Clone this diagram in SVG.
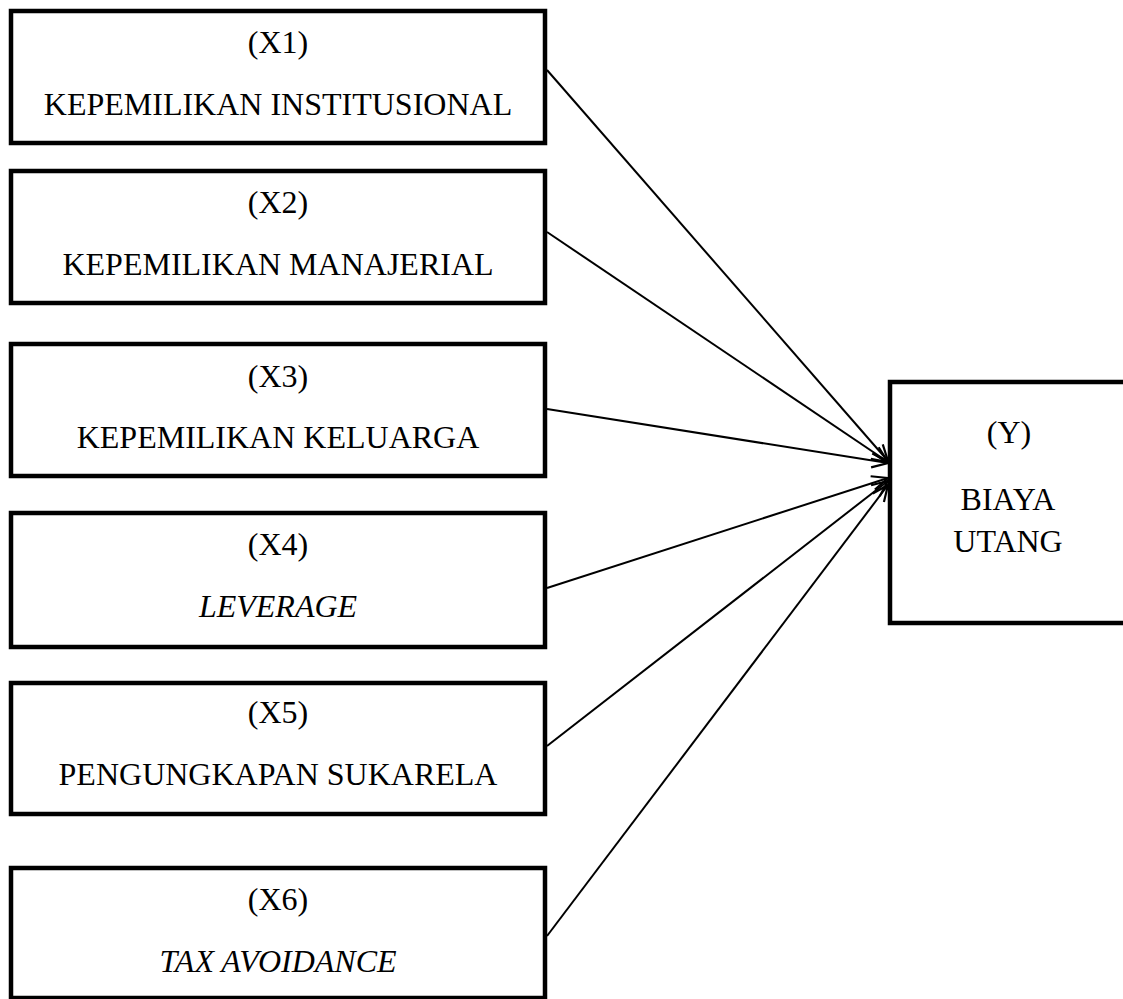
<svg xmlns="http://www.w3.org/2000/svg" width="1123" height="999" viewBox="0 0 1123 999">
<style>
.box{fill:#fff;stroke:#000;stroke-width:4.5}
.t{font-family:"Liberation Serif","Times New Roman",serif;font-size:32px;fill:#000;text-anchor:middle}
.i{font-style:italic}
.c{stroke:#000;stroke-width:2;fill:none}
</style>
<defs>
<marker id="ah" viewBox="0 0 20 20" refX="18" refY="10" markerWidth="20" markerHeight="20" markerUnits="userSpaceOnUse" orient="auto">
<path d="M2,3 L18,10 L2,17" fill="none" stroke="#000" stroke-width="2.2"/>
</marker>
</defs>
<rect width="1123" height="999" fill="#fff"/>
<g id="x1"><rect class="box" x="11" y="11" width="534" height="132"/><text class="t" x="278" y="53">(X1)</text><text class="t" x="278" y="115">KEPEMILIKAN INSTITUSIONAL</text></g>
<g id="x2"><rect class="box" x="11" y="171" width="534" height="132"/><text class="t" x="278" y="213">(X2)</text><text class="t" x="278" y="275">KEPEMILIKAN MANAJERIAL</text></g>
<g id="x3"><rect class="box" x="11" y="344" width="534" height="132"/><text class="t" x="278" y="387">(X3)</text><text class="t" x="278" y="448">KEPEMILIKAN KELUARGA</text></g>
<g id="x4"><rect class="box" x="11" y="513" width="534" height="134"/><text class="t" x="278" y="555">(X4)</text><text class="t i" x="278" y="617">LEVERAGE</text></g>
<g id="x5"><rect class="box" x="11" y="683" width="534" height="131"/><text class="t" x="278" y="723">(X5)</text><text class="t" x="278" y="785">PENGUNGKAPAN SUKARELA</text></g>
<g id="x6"><rect class="box" x="11" y="868" width="534" height="130"/><text class="t" x="278" y="910">(X6)</text><text class="t i" x="278" y="972">TAX AVOIDANCE</text></g>
<g id="y"><rect class="box" x="890" y="382" width="240" height="241"/><text class="t" x="1009" y="443">(Y)</text><text class="t" x="1008" y="510">BIAYA</text><text class="t" x="1008" y="552">UTANG</text></g>
<g id="connectors">
<line class="c" x1="547" y1="70" x2="888" y2="461" marker-end="url(#ah)"/>
<line class="c" x1="547" y1="232" x2="888" y2="462" marker-end="url(#ah)"/>
<line class="c" x1="547" y1="409" x2="888" y2="463" marker-end="url(#ah)"/>
<line class="c" x1="547" y1="588" x2="888" y2="478" marker-end="url(#ah)"/>
<line class="c" x1="547" y1="746" x2="888" y2="481" marker-end="url(#ah)"/>
<line class="c" x1="547" y1="936" x2="888" y2="485" marker-end="url(#ah)"/>
</g>
</svg>
